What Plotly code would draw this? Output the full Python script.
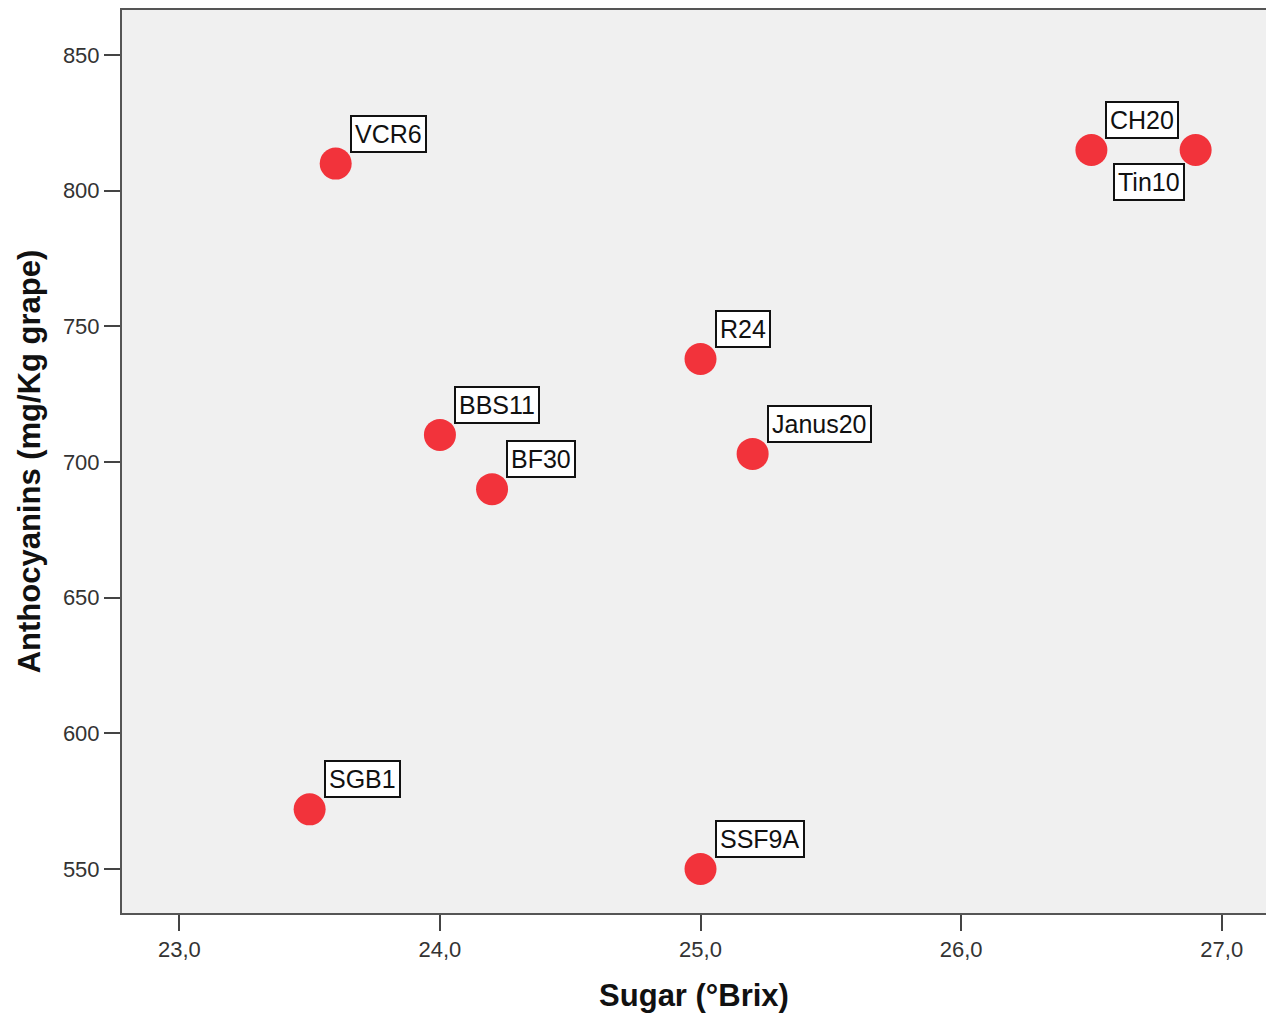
import plotly.graph_objects as go

cultivars = ["VCR6", "CH20", "Tin10", "R24", "BBS11", "BF30", "Janus20", "SGB1", "SSF9A"]
sugar = [23.6, 26.5, 26.9, 25.0, 24.0, 24.2, 25.2, 23.5, 25.0]
anthocyanins = [810, 815, 815, 738, 710, 690, 703, 572, 550]
x_ticks = [23.0, 24.0, 25.0, 26.0, 27.0]
y_ticks = [550, 600, 650, 700, 750, 800, 850]

fig = go.Figure()
fig.add_trace(go.Scatter(
    x=sugar, y=anthocyanins, mode="markers",
    marker=dict(size=32, color="#f2333b", line=dict(width=0)),
    hoverinfo="text", text=cultivars, showlegend=False,
))

for name, xv, yv in zip(cultivars, sugar, anthocyanins):
    if name == "Tin10":
        xa, ya, xs, ys = "right", "top", -11, -13
    else:
        xa, ya, xs, ys = "left", "bottom", 14, 11
    fig.add_annotation(
        x=xv, y=yv, text=name, showarrow=False,
        xanchor=xa, yanchor=ya, xshift=xs, yshift=ys,
        font=dict(family="Liberation Sans, Arial, sans-serif", size=25, color="#111111"),
        bgcolor="white", bordercolor="#111111", borderwidth=2, borderpad=3,
    )

axis_font = dict(family="Liberation Sans, Arial, sans-serif", size=22, color="#333333")
title_font = dict(family="Liberation Sans, Arial, sans-serif", size=31, color="#111111")

fig.update_layout(
    width=1266, height=1013,
    margin=dict(l=122, r=0, t=10, b=100),
    paper_bgcolor="white", plot_bgcolor="#f0f0f0",
    separators=",.",
    xaxis=dict(
        range=[22.78, 27.17], tickvals=x_ticks, tickformat=".1f",
        showgrid=False, zeroline=False,
        showline=True, linecolor="#555555", linewidth=2, mirror=True,
        ticks="outside", ticklen=16, tickwidth=2, tickcolor="#444444",
        tickfont=axis_font,
        title=dict(text="<b>Sugar (°Brix)</b>", font=title_font, standoff=29),
    ),
    yaxis=dict(
        range=[533.8, 866.6], tickvals=y_ticks,
        showgrid=False, zeroline=False,
        showline=True, linecolor="#555555", linewidth=2,
        ticks="outside", ticklen=16, tickwidth=2, tickcolor="#444444",
        tickfont=axis_font,
        title=dict(text="<b>Anthocyanins (mg/Kg grape)</b>", font=title_font, standoff=13),
    ),
)

fig.write_html(
    "out.html",
    config={"displayModeBar": False},
    post_script="document.body.style.margin='0';document.body.style.overflow='hidden';",
)
